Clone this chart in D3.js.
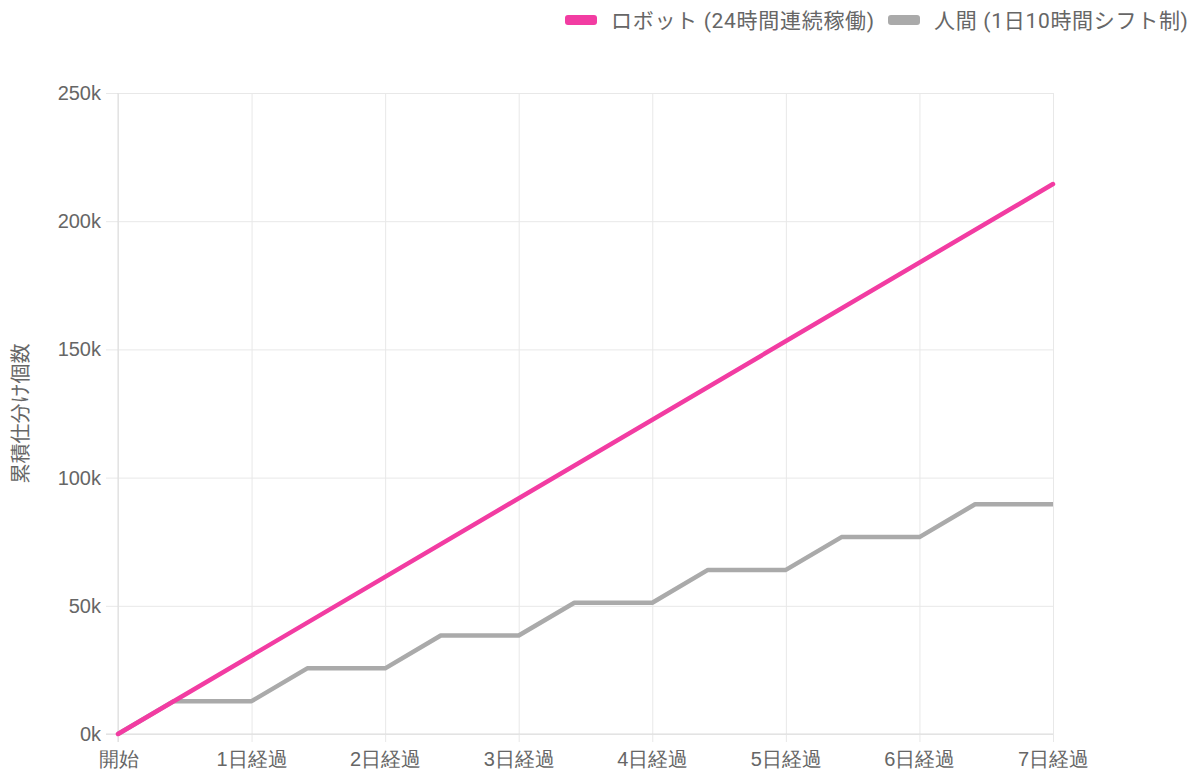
<!DOCTYPE html>
<html lang="ja">
<head>
  <meta charset="UTF-8" />
  <title>仕分け個数の比較</title>
  <script src="https://d3js.org/d3.v7.min.js"></script>
  <style>
    body {
      margin: 0;
      background: #fff;
      font-family: Roboto, "Noto Sans CJK JP", sans-serif;
    }
  </style>
</head>
<body>
  <svg width="1197" height="772"></svg>

  <script>
    // Data (x in elapsed hours, y = cumulative sorted items)
    const dayLabels = ["開始", "1日経過", "2日経過", "3日経過", "4日経過", "5日経過", "6日経過", "7日経過"];
    const dayHours = [0, 24, 48, 72, 96, 120, 144, 168];

    const robotHours = [0, 168];
    const robotValues = [0, 214500];

    const humanHours = [0, 10, 24, 34, 48, 58, 72, 82, 96, 106, 120, 130, 144, 154, 168];
    const humanValues = [0, 12800, 12800, 25600, 25600, 38400, 38400, 51200, 51200, 64000, 64000, 76800, 76800, 89600, 89600];

    const yTicks = [0, 50000, 100000, 150000, 200000, 250000];

    const seriesNames = ["ロボット (24時間連続稼働)", "人間 (1日10時間シフト制)"];
    const seriesColors = ["#f23ca2", "#aaaaaa"];

    const svg = d3.select("svg");
    const margin = { left: 118, right: 144, top: 93, bottom: 38 };
    const width = +svg.attr("width");
    const height = +svg.attr("height");

    const x = d3.scaleLinear().domain([0, 168]).range([margin.left, width - margin.right]);
    const y = d3.scaleLinear().domain([0, 250000]).range([height - margin.bottom, margin.top]);

    const textColor = "#666";
    const gridColor = "#e8e8e8";

    // Horizontal grid + y labels
    const yAxis = svg.append("g")
      .attr("transform", `translate(${margin.left},0)`)
      .call(d3.axisLeft(y).tickValues(yTicks).tickSize(12).tickPadding(4)
        .tickFormat(d => (d / 1000) + "k"));
    yAxis.select(".domain").remove();
    yAxis.selectAll(".tick line")
      .attr("x1", -12)
      .attr("x2", x(168) - margin.left)
      .attr("stroke", gridColor);
    yAxis.selectAll(".tick text")
      .attr("x", -17)
      .attr("fill", textColor)
      .attr("font-size", 20);

    // Vertical grid + x labels
    const xAxis = svg.append("g")
      .attr("transform", `translate(0,${y(0)})`)
      .call(d3.axisBottom(x).tickValues(dayHours).tickSize(8).tickPadding(10)
        .tickFormat((d, i) => dayLabels[i]));
    xAxis.select(".domain").remove();
    xAxis.selectAll(".tick line")
      .attr("y1", y(250000) - y(0))
      .attr("y2", 8)
      .attr("stroke", gridColor);
    xAxis.selectAll(".tick text")
      .attr("fill", textColor)
      .attr("font-size", 20);

    // Axis lines
    svg.append("line")
      .attr("x1", x(0)).attr("x2", x(0))
      .attr("y1", y(250000)).attr("y2", y(0) + 8)
      .attr("stroke", "#ddd");
    svg.append("line")
      .attr("x1", x(0) - 12).attr("x2", x(168))
      .attr("y1", y(0)).attr("y2", y(0))
      .attr("stroke", "#ddd");

    // Y axis title
    svg.append("text")
      .attr("transform", `translate(28,${(y(0) + y(250000)) / 2}) rotate(-90)`)
      .attr("text-anchor", "middle")
      .attr("fill", textColor)
      .attr("font-size", 20)
      .text("累積仕分け個数");

    // Lines
    const line = d3.line().x(d => x(d[0])).y(d => y(d[1]));

    svg.append("path")
      .datum(humanHours.map((h, i) => [h, humanValues[i]]))
      .attr("d", line)
      .attr("fill", "none")
      .attr("stroke", seriesColors[1])
      .attr("stroke-width", 4.5)
      .attr("stroke-linejoin", "round");

    svg.append("path")
      .datum(robotHours.map((h, i) => [h, robotValues[i]]))
      .attr("d", line)
      .attr("fill", "none")
      .attr("stroke", seriesColors[0])
      .attr("stroke-width", 4.5)
      .attr("stroke-linecap", "round");

    // Legend
    const legendX = [565, 888];
    const legend = svg.append("g");
    seriesNames.forEach((name, i) => {
      legend.append("rect")
        .attr("x", legendX[i]).attr("y", 15)
        .attr("width", 32).attr("height", 10)
        .attr("rx", 3)
        .attr("fill", seriesColors[i]);
      legend.append("text")
        .attr("x", legendX[i] + 46).attr("y", 28)
        .attr("fill", textColor)
        .attr("font-size", 21)
        .attr("letter-spacing", 0.7)
        .text(name);
    });
  </script>
</body>
</html>
